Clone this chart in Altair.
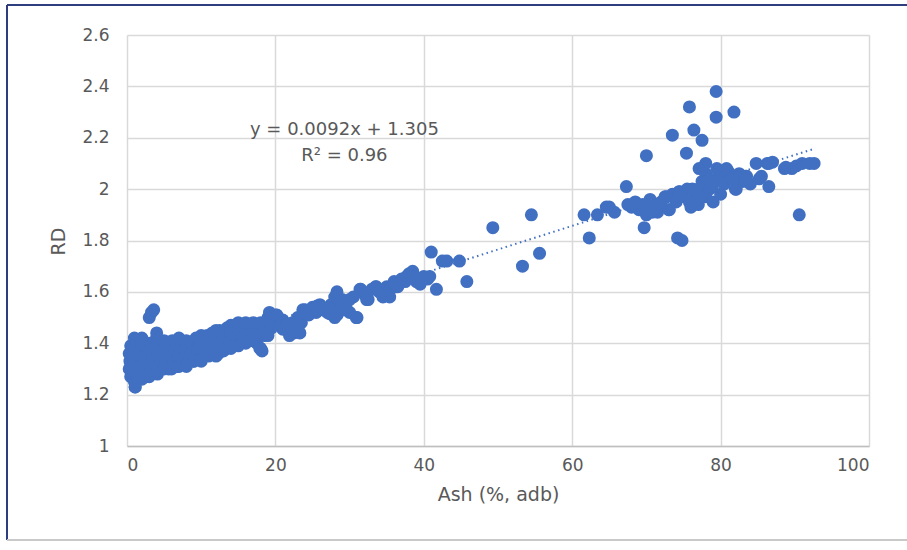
import altair as alt
import pandas as pd

# Ash (%, adb) values
ash = [
    0.3, 0.3, 0.4, 0.5, 0.5, 0.7, 0.8, 0.9, 1.0, 1.0, 1.1, 1.2, 1.3, 1.4, 1.5, 1.6, 1.8, 1.9, 2.0, 2.1,
    2.2, 2.4, 2.5, 2.6, 2.8, 3.0, 3.1, 3.3, 3.5, 3.7, 3.9, 4.1, 4.3, 4.5, 4.7, 5.0, 5.2, 5.4, 5.6, 5.9,
    6.1, 6.3, 6.6, 6.8, 7.0, 7.3, 7.5, 7.8, 8.0, 8.3, 8.5, 8.8, 9.0, 9.3, 9.5, 9.8, 10.0, 10.3, 10.5, 10.8,
    11.0, 11.3, 11.5, 11.8, 12.0, 12.3, 12.5, 12.8, 13.0, 13.3, 13.5, 13.8, 14.0, 14.3, 14.5, 14.8, 15.0, 15.3, 15.5, 15.8,
    16.0, 16.3, 16.5, 16.8, 17.0, 17.3, 17.5, 17.8, 18.0, 18.3, 18.5, 19.0, 19.5, 20.0, 20.5, 21.0, 21.5, 22.0, 22.5, 23.0,
    23.5, 24.0, 24.5, 25.0, 25.5, 26.0, 26.5, 27.0, 27.5, 28.0, 28.0, 28.5, 29.0, 29.5, 30.0, 30.5, 31.0, 31.5, 32.0, 32.5,
    33.0, 33.5, 34.0, 34.5, 35.0, 35.5, 36.0, 36.5, 37.0, 37.5, 38.0, 38.5, 39.0, 39.5, 40.0, 40.5, 41.7,
    2.0, 3.0, 4.0, 5.0, 6.0, 7.0, 8.0, 9.0, 10.0, 11.0, 12.0, 13.0, 14.0, 15.0, 16.0, 17.0, 18.2, 19.0,
    1.0, 2.0, 4.0, 5.0, 7.0, 8.0, 10.0, 12.0, 14.0, 15.0, 16.0, 17.0, 18.0, 19.0, 20.0,
    1.1, 3.0, 3.3, 3.6, 4.0,
    17.9, 19.2, 20.2, 21.0, 21.9, 22.3, 23.3, 23.7, 25.6, 27.3, 28.3, 28.3, 29.0, 29.1, 30.0, 30.9, 31.4, 32.3,
    33.6, 35.4, 36.3, 37.7, 39.0, 40.8, 42.5,
    41.0, 43.1, 44.8, 45.8, 49.3, 54.5, 53.3, 55.6, 61.6, 62.3, 63.4, 65.0, 65.7,
    67.5, 68.0, 68.5, 69.0, 69.5, 70.0, 70.5, 71.0, 71.5, 72.0, 72.5, 73.0, 73.5, 74.0, 74.5, 75.0, 75.5, 76.0,
    76.5, 77.0, 77.0, 77.5, 78.0, 78.0, 78.5, 79.0, 79.0, 79.5, 80.0, 80.0, 80.5, 81.0, 81.5, 82.0, 82.5, 83.0,
    83.5, 84.0, 67.3, 70.0, 69.7, 74.2, 74.8, 73.5, 75.8, 76.4, 77.5, 75.4, 79.4, 79.4, 81.8,
    78.0, 84.8, 86.3, 86.5, 88.6, 89.6, 91.0, 92.0, 92.6, 90.6, 86.5, 85.5, 82.0,
    64.6, 68.1, 70.8, 71.7, 72.7, 73.1, 74.4, 75.8, 76.2, 76.7, 77.1, 77.1, 78.5, 78.9, 79.8, 80.8, 81.6, 82.1,
    83.4, 85.2, 87.0, 88.8, 90.2,
]

# Relative density (RD) values
rd = [
    1.30, 1.36, 1.33, 1.27, 1.39, 1.31, 1.35, 1.28, 1.25, 1.38, 1.23, 1.32, 1.41, 1.29, 1.35, 1.26, 1.37, 1.31, 1.42, 1.28,
    1.34, 1.39, 1.30, 1.27, 1.36, 1.32, 1.40, 1.29, 1.35, 1.38, 1.31, 1.28, 1.41, 1.34, 1.30, 1.37, 1.32, 1.40, 1.30, 1.35,
    1.41, 1.33, 1.38, 1.31, 1.36, 1.41, 1.34, 1.38, 1.32, 1.40, 1.35, 1.37, 1.33, 1.42, 1.36, 1.39, 1.34, 1.41, 1.37, 1.43,
    1.36, 1.40, 1.44, 1.38, 1.42, 1.36, 1.45, 1.40, 1.43, 1.38, 1.46, 1.41, 1.44, 1.39, 1.47, 1.42, 1.45, 1.40, 1.47, 1.43,
    1.46, 1.41, 1.47, 1.44, 1.42, 1.46, 1.40, 1.44, 1.38, 1.47, 1.43, 1.48, 1.46, 1.50, 1.48, 1.49, 1.47, 1.46, 1.44, 1.50,
    1.48, 1.53, 1.51, 1.54, 1.52, 1.55, 1.53, 1.52, 1.55, 1.58, 1.50, 1.53, 1.55, 1.54, 1.52, 1.58, 1.50, 1.61, 1.59, 1.57,
    1.61, 1.62, 1.60, 1.58, 1.62, 1.61, 1.64, 1.62, 1.65, 1.64, 1.67, 1.68, 1.65, 1.63, 1.66, 1.65, 1.61,
    1.26, 1.27, 1.29, 1.30, 1.30, 1.31, 1.31, 1.33, 1.33, 1.35, 1.35, 1.37, 1.38, 1.39, 1.40, 1.41, 1.37, 1.43,
    1.42, 1.41, 1.42, 1.41, 1.42, 1.41, 1.43, 1.45, 1.47, 1.48, 1.48, 1.48, 1.48, 1.50, 1.51,
    1.23, 1.50, 1.52, 1.53, 1.44,
    1.38, 1.52, 1.51, 1.455, 1.43, 1.48, 1.44, 1.53, 1.545, 1.515, 1.60, 1.51, 1.57, 1.53, 1.57, 1.50, 1.61, 1.57,
    1.62, 1.58, 1.62, 1.66, 1.64, 1.66, 1.72,
    1.755, 1.72, 1.72, 1.64, 1.85, 1.90, 1.70, 1.75, 1.90, 1.81, 1.90, 1.93, 1.91,
    1.94, 1.93, 1.95, 1.92, 1.94, 1.90, 1.96, 1.93, 1.91, 1.95, 1.97, 1.92, 1.98, 1.95, 1.99, 1.97, 2.00, 1.93,
    1.96, 2.00, 1.94, 2.03, 1.97, 2.06, 2.00, 1.95, 2.03, 2.08, 1.98, 2.05, 2.02, 2.07, 2.04, 2.00, 2.06, 2.03,
    2.05, 2.02, 2.01, 2.13, 1.85, 1.81, 1.80, 2.21, 2.32, 2.23, 2.19, 2.14, 2.38, 2.28, 2.30,
    2.10, 2.10, 2.10, 2.10, 2.08, 2.08, 2.10, 2.10, 2.10, 1.90, 2.01, 2.05, 2.05,
    1.93, 1.94, 1.91, 1.94, 1.97, 1.92, 1.99, 1.95, 2.00, 1.96, 1.97, 2.08, 2.04, 2.01, 2.07, 2.08, 2.04, 2.00,
    2.05, 2.04, 2.105, 2.085, 2.09,
]

# Trendline equation shown on the chart
slope = 0.0092
intercept = 1.305
trend_ash = [0.3, 92.6]

x_ticks = [0, 20, 40, 60, 80, 100]
y_ticks = [1, 1.2, 1.4, 1.6, 1.8, 2, 2.2, 2.4, 2.6]

eq_text = ["y = 0.0092x + 1.305", "R² = 0.96"]
eq_x = [29.3, 29.3]
eq_y = [2.232, 2.13]

pts = pd.DataFrame({"ash": ash, "rd": rd})
trend = pd.DataFrame({"ash": trend_ash, "rd": [slope * a + intercept for a in trend_ash]})
ann = pd.DataFrame({"ash": eq_x, "rd": eq_y, "t": eq_text})

BLUE = "#4170C2"
FONT = "DejaVu Sans"
GRAY = "#595959"

xs = alt.Scale(domain=[0, 100], nice=False)
ys = alt.Scale(domain=[1, 2.6], nice=False, zero=False)

x_axis = alt.Axis(values=x_ticks, title="Ash (%, adb)", ticks=False, labelPadding=11,
                  labelFontSize=17, labelColor=GRAY, labelFont=FONT,
                  titleFontSize=19, titleColor=GRAY, titleFont=FONT, titleFontWeight="normal",
                  titleY=48, titleBaseline="middle",
                  grid=True, gridColor="#d9d9d9", gridWidth=1.5,
                  domain=True, domainColor="#bfbfbf", domainWidth=1.5)
y_axis = alt.Axis(values=y_ticks, title="RD", format="~g", ticks=False, labelPadding=18,
                  labelFontSize=17, labelColor=GRAY, labelFont=FONT,
                  titleFontSize=19, titleColor=GRAY, titleFont=FONT, titleFontWeight="normal",
                  titleX=-69, titleY=206, titleAngle=-90, titleAlign="center", titleBaseline="middle",
                  grid=True, gridColor="#d9d9d9", gridWidth=1.5, domain=False)

line = alt.Chart(trend).mark_line(color=BLUE, strokeDash=[1.5, 3.5], strokeWidth=2).encode(
    x=alt.X("ash:Q", scale=xs, axis=x_axis),
    y=alt.Y("rd:Q", scale=ys, axis=y_axis),
)

points = alt.Chart(pts).mark_circle(size=170, color=BLUE, opacity=1).encode(
    x=alt.X("ash:Q", scale=xs),
    y=alt.Y("rd:Q", scale=ys),
)

text = alt.Chart(ann).mark_text(font=FONT, fontSize=18, color=GRAY, align="center", baseline="middle").encode(
    x=alt.X("ash:Q", scale=xs),
    y=alt.Y("rd:Q", scale=ys),
    text="t:N",
)

left_border = alt.Chart(pts).mark_rule(color="#2e3e7e", strokeWidth=1.5).encode(
    x=alt.value(-120), y=alt.value(-30), y2=alt.value(505))
top_border = alt.Chart(pts).mark_rule(color="#2e3e7e", strokeWidth=1.5).encode(
    x=alt.value(-120), x2=alt.value(780), y=alt.value(-30))
bottom_border = alt.Chart(pts).mark_rule(color="#c8c8c8", strokeWidth=1.5).encode(
    x=alt.value(-120), x2=alt.value(780), y=alt.value(505))

chart = alt.layer(line, points, text, left_border, top_border, bottom_border).properties(
    width=742, height=411,
    autosize=alt.AutoSizeParams(type="none"),
    padding={"left": 127, "top": 35, "right": 38, "bottom": 104},
    background="white",
).configure_view(stroke=None)

chart.save("out.html", embed_options={"renderer": "svg", "actions": False})
